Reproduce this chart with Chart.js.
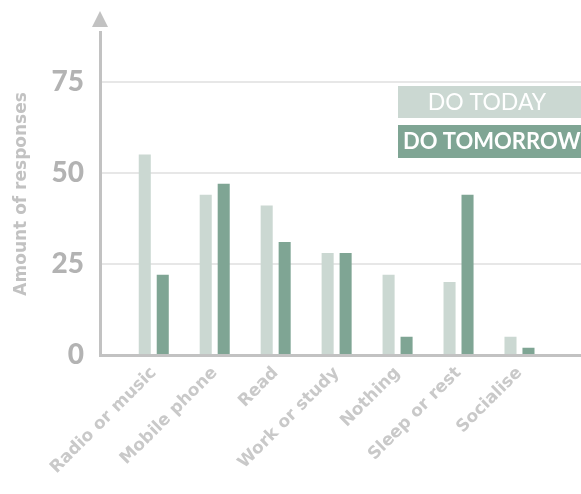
<!DOCTYPE html>
<html>
<head>
<meta charset="utf-8">
<script src="https://cdn.jsdelivr.net/npm/chart.js@4.4.1/dist/chart.umd.min.js"></script>
<style>
    html, body { margin: 0; padding: 0; background: #fff; overflow: hidden; }
    #wrap { width: 640px; height: 494px; }
</style>
</head>
<body>
<div id="wrap"><canvas id="chart" width="640" height="494"></canvas></div>
<script>
// chart data
const categories = ['Radio or music', 'Mobile phone', 'Read', 'Work or study', 'Nothing', 'Sleep or rest', 'Socialise'];
const doToday = [55, 44, 41, 28, 22, 20, 5];
const doTomorrow = [22, 47, 31, 28, 5, 44, 2];
const yTicks = [0, 25, 50, 75];
const seriesNames = ['DO TODAY', 'DO TOMORROW'];

const lightGreen = '#cbd8d2';
const darkGreen = '#7fa594';
const axisGrey = '#c2c2c2';

function toPoints(values) {
    return values.map((v, i) => ({ x: i, y: v }));
}

// draws the arrow on top of the y axis and the boxed legend
const decorations = {
    id: 'decorations',
    afterDraw(chart) {
        const ctx = chart.ctx;
        const area = chart.chartArea;
        const x = area.left;
        ctx.save();
        ctx.fillStyle = axisGrey;
        ctx.beginPath();
        ctx.moveTo(x, 11);
        ctx.lineTo(x + 8, 27);
        ctx.lineTo(x - 8, 27);
        ctx.closePath();
        ctx.fill();

        const sets = chart.data.datasets;
        // DO TODAY
        ctx.fillStyle = sets[0].backgroundColor;
        ctx.fillRect(398, 86, 260, 32);
        ctx.fillStyle = '#ffffff';
        ctx.font = '400 23px Lato';
        ctx.textAlign = 'center';
        ctx.textBaseline = 'middle';
        ctx.fillText(sets[0].label, 487, 103);
        // DO TOMORROW
        ctx.fillStyle = sets[1].backgroundColor;
        ctx.fillRect(398, 125, 260, 33);
        ctx.fillStyle = '#ffffff';
        ctx.font = '700 22px Lato';
        ctx.textAlign = 'left';
        ctx.fillText(sets[1].label, 403, 142);
        ctx.restore();
    }
};

const chart = new Chart(document.getElementById('chart'), {
    type: 'bar',
    data: {
        datasets: [{
            label: seriesNames[0],
            data: toPoints(doToday),
            backgroundColor: lightGreen,
            borderWidth: 0
        }, {
            label: seriesNames[1],
            data: toPoints(doTomorrow),
            backgroundColor: darkGreen,
            borderWidth: 0
        }]
    },
    options: {
        responsive: false,
        animation: false,
        layout: { padding: { top: 25, right: 0, left: 0, bottom: 0 } },
        categoryPercentage: 0.59,
        barPercentage: 0.67,
        plugins: {
            legend: { display: false },
            tooltip: { enabled: false }
        },
        scales: {
            x: {
                type: 'linear',
                offset: false,
                min: -0.882,
                max: 7.977,
                grid: { display: false, drawTicks: false, offset: false },
                border: { display: true, color: axisGrey, width: 3 },
                afterBuildTicks(scale) {
                    scale.ticks = categories.map((c, i) => ({ value: i }));
                },
                afterFit(scale) {
                    scale.height = 139;
                },
                ticks: {
                    minRotation: 45,
                    maxRotation: 45,
                    padding: 8,
                    color: '#c9c9c9',
                    font: { family: 'DejaVu Sans', weight: 'bold', size: 17 },
                    callback: function(value) {
                        return categories[value];
                    }
                }
            },
            y: {
                min: 0,
                max: 88.4,
                grid: { color: '#e7e7e7', lineWidth: 2, drawTicks: false },
                border: { display: true, color: axisGrey, width: 3 },
                afterBuildTicks(scale) {
                    scale.ticks = yTicks.map(v => ({ value: v }));
                },
                afterFit(scale) {
                    scale.width = 100;
                },
                ticks: {
                    padding: 16,
                    color: '#b3b3b3',
                    font: { family: 'Lato', weight: '900', size: 28 }
                },
                title: {
                    display: true,
                    text: 'Amount of responses',
                    color: '#c2c2c2',
                    padding: { top: 11, bottom: 0 },
                    font: { family: 'DejaVu Sans', weight: 'bold', size: 17 }
                }
            }
        }
    },
    plugins: [decorations]
});
</script>
</body>
</html>
